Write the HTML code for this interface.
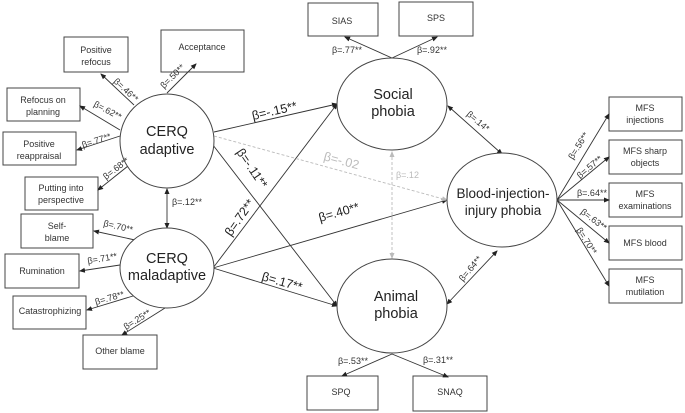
<!DOCTYPE html>
<html><head><meta charset="utf-8"><style>
html,body{margin:0;padding:0;background:#fff;}
svg{display:block;font-family:"Liberation Sans",sans-serif;}
.b{fill:#fff;stroke:#444;stroke-width:1;}
.l{stroke:#333;stroke-width:0.9;fill:none;}
.d{stroke:#bbb;stroke-width:0.9;fill:none;stroke-dasharray:3,2;}
.bt{font-size:9px;fill:#333;text-anchor:middle;}
.et{font-size:14.5px;fill:#222;text-anchor:middle;}
.s{font-size:9px;fill:#333;}
.m{font-size:12.5px;fill:#222;}
</style></head><body>
<svg width="685" height="413" viewBox="0 0 685 413">
<defs>
<marker id="a" markerWidth="6" markerHeight="6" refX="5" refY="3" orient="auto-start-reverse" markerUnits="userSpaceOnUse"><path d="M0,0.5 L6,3 L0,5.5z" fill="#222"/></marker>
<marker id="g" markerWidth="6" markerHeight="6" refX="5" refY="3" orient="auto-start-reverse" markerUnits="userSpaceOnUse"><path d="M0,0.5 L6,3 L0,5.5z" fill="#bbb"/></marker>
</defs>
<rect class="b" x="64" y="37" width="64" height="35"/><text class="bt" x="96" y="53">Positive</text><text class="bt" x="96" y="65">refocus</text>
<rect class="b" x="161" y="30" width="83" height="42"/><text class="bt" x="202" y="50">Acceptance</text>
<rect class="b" x="7" y="88" width="73" height="33"/><text class="bt" x="43" y="103">Refocus on</text><text class="bt" x="43" y="115">planning</text>
<rect class="b" x="3" y="132" width="73" height="33"/><text class="bt" x="39" y="147">Positive</text><text class="bt" x="39" y="159">reappraisal</text>
<rect class="b" x="25" y="177" width="73" height="33"/><text class="bt" x="61" y="191">Putting into</text><text class="bt" x="61" y="203">perspective</text>
<rect class="b" x="21" y="214" width="72" height="34"/><text class="bt" x="57" y="229">Self-</text><text class="bt" x="57" y="241">blame</text>
<rect class="b" x="5" y="254" width="74" height="34"/><text class="bt" x="42" y="274">Rumination</text>
<rect class="b" x="13" y="296" width="73" height="33"/><text class="bt" x="50" y="314">Catastrophizing</text>
<rect class="b" x="83" y="335" width="74" height="34"/><text class="bt" x="120" y="354">Other blame</text>
<rect class="b" x="308" y="3" width="70" height="33"/><text class="bt" x="342" y="24">SIAS</text>
<rect class="b" x="399" y="2" width="74" height="34"/><text class="bt" x="436" y="21">SPS</text>
<rect class="b" x="307" y="376" width="71" height="34"/><text class="bt" x="341" y="395">SPQ</text>
<rect class="b" x="413" y="376" width="74" height="35"/><text class="bt" x="450" y="395">SNAQ</text>
<rect class="b" x="609" y="97" width="73" height="34"/><text class="bt" x="645" y="111">MFS</text><text class="bt" x="645" y="123">injections</text>
<rect class="b" x="609" y="140" width="73" height="34"/><text class="bt" x="645" y="154">MFS sharp</text><text class="bt" x="645" y="166">objects</text>
<rect class="b" x="609" y="183" width="73" height="34"/><text class="bt" x="645" y="197">MFS</text><text class="bt" x="645" y="209">examinations</text>
<rect class="b" x="609" y="226" width="73" height="34"/><text class="bt" x="645" y="246">MFS blood</text>
<rect class="b" x="609" y="269" width="73" height="34"/><text class="bt" x="645" y="283">MFS</text><text class="bt" x="645" y="295">mutilation</text>
<g class="l" marker-end="url(#a)">
<line x1="134" y1="105" x2="101" y2="74"/>
<line x1="167" y1="93" x2="196" y2="64"/>
<line x1="120" y1="130" x2="80" y2="106"/>
<line x1="120" y1="136" x2="77" y2="150"/>
<line x1="133" y1="162" x2="98" y2="190"/>
<line x1="135" y1="240" x2="94" y2="231"/>
<line x1="120" y1="265" x2="80" y2="271"/>
<line x1="133" y1="296" x2="87" y2="310"/>
<line x1="165" y1="308" x2="122" y2="335"/>
<line x1="214" y1="132" x2="337" y2="104"/>
<line x1="206" y1="136" x2="337" y2="306"/>
<line x1="213" y1="268" x2="337" y2="104"/>
<line x1="213" y1="268" x2="447" y2="200"/>
<line x1="213" y1="268" x2="337" y2="306"/>
<line x1="392" y1="58" x2="345" y2="37"/>
<line x1="392" y1="58" x2="437" y2="37"/>
<line x1="392" y1="354" x2="342" y2="376"/>
<line x1="392" y1="354" x2="448" y2="377"/>
<line x1="557" y1="200" x2="609" y2="114"/>
<line x1="557" y1="200" x2="609" y2="157"/>
<line x1="557" y1="200" x2="609" y2="200"/>
<line x1="557" y1="200" x2="609" y2="243"/>
<line x1="557" y1="200" x2="609" y2="286"/>
</g>
<g class="l" marker-end="url(#a)" marker-start="url(#a)">
<line x1="167" y1="189" x2="167" y2="228"/>
<line x1="448" y1="106" x2="502" y2="154"/>
<line x1="447" y1="304" x2="497" y2="251"/>
</g>
<line class="d" x1="214" y1="136" x2="447" y2="200" marker-end="url(#g)"/>
<line class="d" x1="392" y1="152" x2="392" y2="258" marker-end="url(#g)" marker-start="url(#g)"/>
<g class="b">
<ellipse cx="167" cy="141" rx="47" ry="47"/>
<ellipse cx="167" cy="268" rx="47" ry="40"/>
<ellipse cx="392" cy="104" rx="55" ry="46"/>
<ellipse cx="392" cy="306" rx="55" ry="47"/>
<ellipse cx="502" cy="200" rx="55" ry="47"/>
</g>
<text class="et" x="167" y="136">CERQ</text><text class="et" x="167" y="154">adaptive</text>
<text class="et" x="167" y="263">CERQ</text><text class="et" x="167" y="280">maladaptive</text>
<text class="et" x="393" y="99">Social</text><text class="et" x="393" y="116">phobia</text>
<text class="et" x="396" y="301">Animal</text><text class="et" x="396" y="318">phobia</text>
<text class="et" style="font-size:13.5px" x="503" y="198">Blood-injection-</text><text class="et" style="font-size:13.5px" x="503" y="215">injury phobia</text>
<text class="s" transform="translate(113,82) rotate(43)">β=.46**</text>
<text class="s" transform="translate(164,89) rotate(-45)">β=.50**</text>
<text class="s" transform="translate(93,106) rotate(28)">β=.62**</text>
<text class="s" transform="translate(83,148) rotate(-18)">β=.77**</text>
<text class="s" transform="translate(106,180) rotate(-38)">β=.68**</text>
<text class="s" x="172" y="205">β=.12**</text>
<text class="s" transform="translate(103,226) rotate(13)">β=.70**</text>
<text class="s" transform="translate(88,264) rotate(-10)">β=.71**</text>
<text class="s" transform="translate(96,305) rotate(-16)">β=.78**</text>
<text class="s" transform="translate(126,330) rotate(-32)">β=.25**</text>
<text class="s" x="332" y="53">β=.77**</text>
<text class="s" x="417" y="53">β=.92**</text>
<text class="s" x="338" y="364">β=.53**</text>
<text class="s" x="423" y="363">β=.31**</text>
<text class="s" transform="translate(466,115) rotate(40)">β=.14*</text>
<text class="s" transform="translate(463,282) rotate(-50)">β=.64**</text>
<text class="s" style="fill:#bbb" x="396" y="178">β=.12</text>
<text class="s" transform="translate(573,160) rotate(-58)">β=.56**</text>
<text class="s" transform="translate(580,179) rotate(-40)">β=.57**</text>
<text class="s" x="577" y="196">β=.64**</text>
<text class="s" transform="translate(580,213) rotate(37)">β=.63**</text>
<text class="s" transform="translate(576,230) rotate(57)">β=.70**</text>
<text class="m" transform="translate(253,120) rotate(-13)">β=-.15**</text>
<text class="m" transform="translate(236,152) rotate(56)">β=-.11**</text>
<text class="m" transform="translate(231,237) rotate(-55)">β=.72**</text>
<text class="m" transform="translate(320,222) rotate(-16)">β=.40**</text>
<text class="m" transform="translate(261,280) rotate(16)">β=.17**</text>
<text class="m" style="fill:#bbb" transform="translate(323,160) rotate(15)">β=-.02</text>
</svg>
</body></html>
